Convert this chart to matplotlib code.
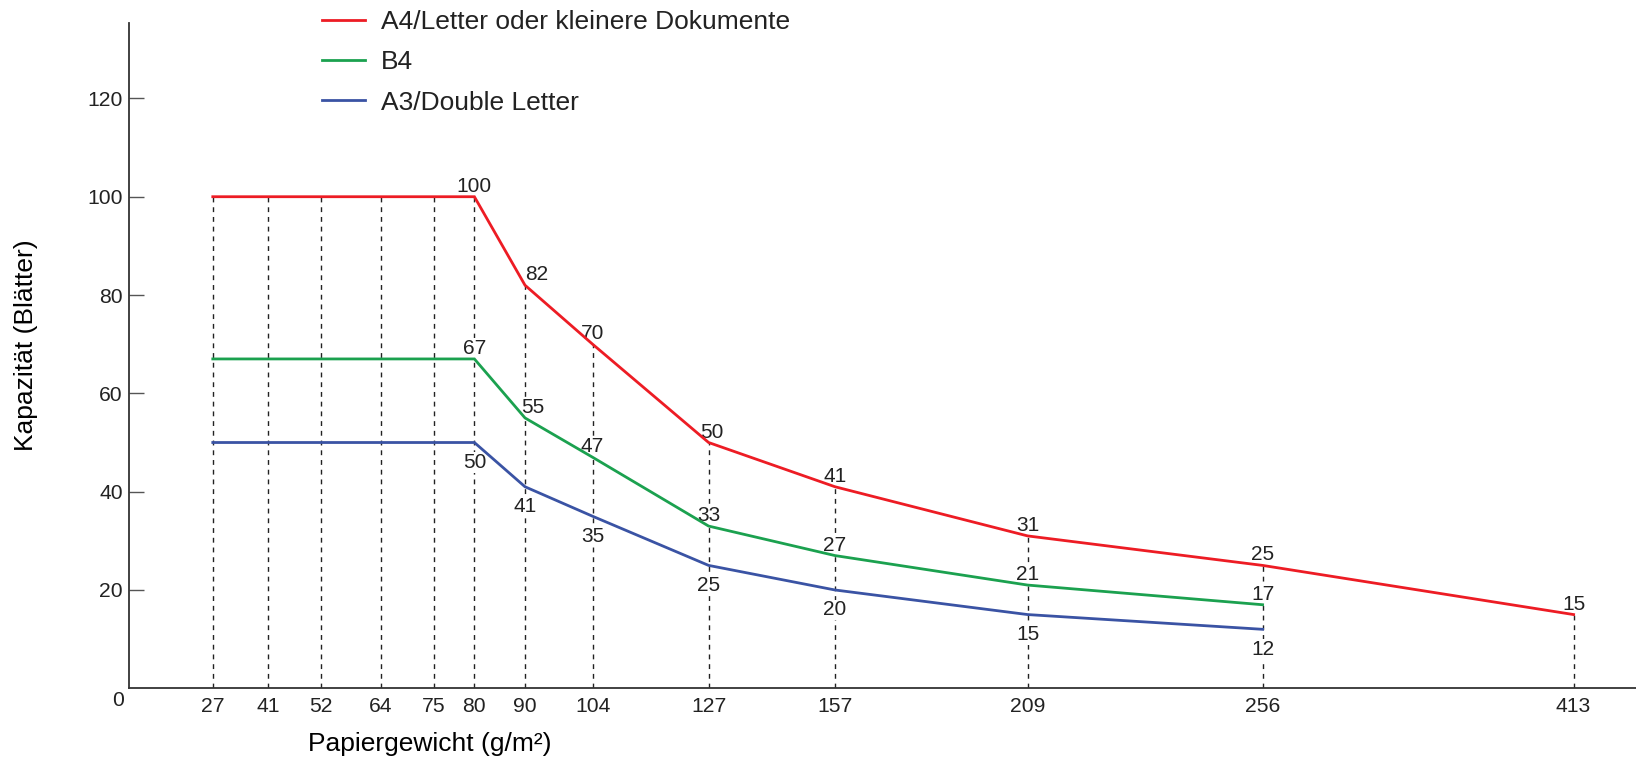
import numpy as np
import matplotlib
matplotlib.use("Agg")
import matplotlib.pyplot as plt
from matplotlib.lines import Line2D

plt.rcParams['font.family'] = ['Liberation Sans', 'DejaVu Sans']

# ---- data ----
weights = [27, 41, 52, 64, 75, 80, 90, 104, 127, 157, 209, 256, 413]
a4_letter = [100, 100, 100, 100, 100, 100, 82, 70, 50, 41, 31, 25, 15]
b4 = [67, 67, 67, 67, 67, 67, 55, 47, 33, 27, 21, 17]
a3_double = [50, 50, 50, 50, 50, 50, 41, 35, 25, 20, 15, 12]
series_names = ["A4/Letter oder kleinere Dokumente", "B4", "A3/Double Letter"]
y_ticks = [20, 40, 60, 80, 100, 120]
x_label = "Papiergewicht (g/m²)"
y_label = "Kapazität (Blätter)"

# ---- layout / style ----
W, H, DPI = 1636, 758, 100
colors = ["#ED1C24", "#1BA14F", "#3A53A4"]
# irregular axis: pixel slot for each weight (axis spans from 0 to 500)
slot_w = [0] + weights + [500]
slot_px = [129, 212.8, 268, 320.5, 380.7, 433.8, 474.4, 525, 592.6, 708.6, 835, 1027.6, 1262.6, 1573.6, 1636]

fig = plt.figure(figsize=(W / DPI, H / DPI), dpi=DPI)
ax = fig.add_axes([129 / W, 1 - 688.3 / H, 1 - 129 / W, (688.3 - 22.7) / H])

def fwd(x):
    return np.interp(x, slot_w, slot_px)

def inv(p):
    return np.interp(p, slot_px, slot_w)

ax.set_xscale('function', functions=(fwd, inv))
ax.set_xlim(0, 500)
ax.set_ylim(0, 135.4)

all_series = [a4_letter, b4, a3_double]

# dashed guide lines up to the highest value at each weight
tops = []
for i, w in enumerate(weights):
    tops.append(max(s[i] for s in all_series if i < len(s)))
ax.vlines(weights, 0, tops, colors='#222222', linestyles=(0, (3.5, 3.5)), linewidth=1.0, zorder=1)

for s, c, name in zip(all_series, colors, series_names):
    ax.plot(weights[:len(s)], s, color=c, lw=2.0, label=name, zorder=3,
            solid_joinstyle='miter')

# value labels (white knock-out behind the digits hides the guide lines)
lab_fs = 15
px = 72 / DPI
above_dx = {(0, 90): 12, (1, 90): 8, (0, 127): 3}
box = dict(facecolor='white', edgecolor='none', pad=0.6)
for k, s in enumerate(all_series):
    for i in range(5, len(s)):
        w = weights[i]
        dx = above_dx.get((k, w), 0) * px
        dy = 5.0 * px if k < 2 else -25.5 * px
        ax.annotate(str(s[i]), (w, s[i]), xytext=(dx, dy), textcoords='offset points',
                    ha='center', va='baseline', fontsize=lab_fs, color='#222222',
                    zorder=2, bbox=box)

# axes styling
for sp in ['top', 'right']:
    ax.spines[sp].set_visible(False)
for sp in ['left', 'bottom']:
    ax.spines[sp].set_color('#333333')
    ax.spines[sp].set_linewidth(1.3)

ax.set_yticks(y_ticks)
ax.set_yticklabels([str(v) for v in y_ticks])
ax.tick_params(axis='y', direction='in', length=15 * px, width=1.0, color='#555555',
               labelsize=15.2, pad=6 * px, labelcolor='#222222')
ax.set_xticks(weights)
ax.set_xticklabels([str(w) for w in weights])
ax.tick_params(axis='x', length=0, labelsize=15.2, pad=9 * px, labelcolor='#222222')
ax.xaxis.set_minor_locator(matplotlib.ticker.NullLocator())

# origin label
fig.text(118 / W, 1 - 701 / H, "0", ha='center', va='center', fontsize=15.2, color='#222222')

# axis titles
fig.text(430 / W, 1 - 744 / H, x_label, ha='center', va='center', fontsize=19, color='black')
fig.text(26 / W, 1 - 345 / H, y_label, ha='center', va='center', rotation=90, fontsize=19, color='black')

# legend
handles = [Line2D([], [], color=c, lw=2.0) for c in colors]
leg = fig.legend(handles, series_names, loc='upper left', bbox_to_anchor=(322 / W, 1 - 10 / H),
                 frameon=False, fontsize=19, handlelength=1.63, handletextpad=0.6,
                 borderpad=0, borderaxespad=0, labelspacing=0.62)
for t in leg.get_texts():
    t.set_color('#222222')

fig.savefig("out.png", dpi=DPI)
